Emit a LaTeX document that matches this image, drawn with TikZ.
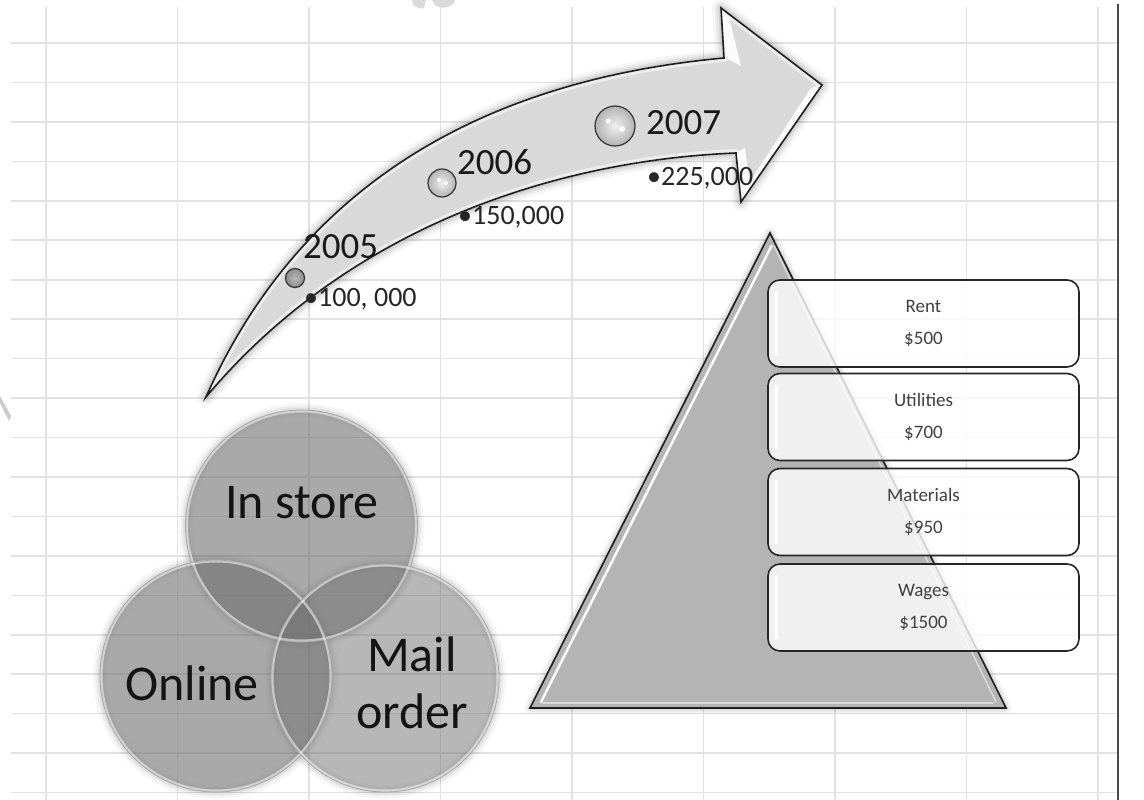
\documentclass[tikz,border=0pt]{standalone}
\usepackage{fontspec}
\setmainfont{Carlito}
\usetikzlibrary{calc}

\definecolor{gridc}{HTML}{E2E2E2}
\definecolor{edgec}{HTML}{4A4A4A}
\definecolor{arrowfill}{HTML}{D9D9D9}
\definecolor{outlinec}{HTML}{1E1E1E}
\definecolor{vennc}{HTML}{707070}
\definecolor{trifill}{HTML}{B4B4B4}
\definecolor{boxtext}{HTML}{404040}
\definecolor{markc}{HTML}{CBCBCB}

% curved timeline arrow, reused for halo, fill, bevel and outline
\newcommand\ArrowShape[1]{%
  \path[#1] (206,397) .. controls (280,230) and (430,85) .. (724,58)
    -- (721,8) -- (822,85) -- (741,202) -- (736,153)
    .. controls (560,160) and (350,225) .. (206,397) -- cycle;}
% pyramid
\newcommand\PyramidShape[1]{%
  \path[#1] (770,233) -- (530,708) -- (1006,708) -- cycle;}

\begin{document}
\begin{tikzpicture}[x=1pt,y=-1pt,
  gridline/.style={draw=gridc, line width=1.6},
  yeartext/.style={font=\fontsize{37}{40}\selectfont, inner sep=0, anchor=west, text=black!90},
  amount/.style={font=\fontsize{28}{30}\selectfont, inner sep=0, anchor=west, text=black!85},
  bubble/.style={circle, draw=black!80, line width=1.2, inner sep=0,
    inner color=black!6, outer color=black!30},
  glint/.style={circle, fill=white, inner sep=0, minimum size=#1},
  costbox/.style={rectangle, rounded corners=12, draw=black!85, line width=1.6,
    fill=white, fill opacity=.8, text opacity=1, minimum width=311, minimum height=87,
    align=center, text=boxtext, font=\fontsize{19}{32}\selectfont, inner sep=0},
  venntext/.style={font=\fontsize{50}{57}\selectfont, text=black!92, align=center, inner sep=0},
  rimlight/.style={draw=white, line width=5, opacity=.55},
]
\useasboundingbox (0,0) rectangle (1144,800);
\fill[white] (0,0) rectangle (1144,800);

% worksheet grid
\foreach \k in {0,...,8} {
  \pgfmathsetmacro\gx{46+131.5*\k}
  \draw[gridline] (\gx,7) -- (\gx,800);
}
\foreach \k in {0,...,19} {
  \pgfmathsetmacro\gy{43+39.45*\k}
  \draw[gridline] (11,\gy) -- (1118,\gy);
}
\draw[edgec, line width=1.5] (1118,4) -- (1118,800);

% faint marks cut by the page edges
\fill[markc, opacity=.7] (412,0) .. controls (412,6) and (418,10) .. (424,8) -- (426,0) -- cycle;
\fill[markc, opacity=.7] (432,0) .. controls (434,8) and (446,11) .. (454,3) -- (455,0) -- cycle;
\fill[markc] (0,396) -- (0,403) -- (9,421) -- (11,416) -- cycle;

% ---- timeline arrow ----
\foreach \w/\o in {18/.03,13/.04,9/.05,5/.07} {
  \ArrowShape{draw=black, line width=\w, opacity=\o, line join=round}
}
\ArrowShape{fill=arrowfill}
\begin{scope}
  \ArrowShape{clip}
  \ArrowShape{draw=white, line width=8, opacity=.5, line join=round}
  % bevel facets of the arrow head
  \fill[white, opacity=.95] (822,85) -- (741,202) -- (747,186) -- (811,88) -- cycle;
  \fill[white, opacity=.9] (721,8) -- (729,17) -- (741,66) -- (726,58) -- cycle;
  \fill[white, opacity=.9] (736,153) -- (745,148) -- (750,186) -- (742,196) -- cycle;
\end{scope}
\ArrowShape{draw=outlinec, line width=1.6, line join=miter}

\node[bubble, minimum size=19, inner color=black!28, outer color=black!45] (b2005) at (295,278) {};
\node[bubble, minimum size=28] (b2006) at (442,183) {};
\node[bubble, minimum size=40] (b2007) at (615,126) {};
\node[glint=4] (g2006a) at (439,180) {};
\node[glint=4] (g2006b) at (446,183) {};
\node[glint=5] (g2007a) at (608,121) {};
\node[glint=6] (g2007b) at (622,129) {};

\node[yeartext] (y2005) at (303,247) {2005};
\node[yeartext] (y2006) at (457,162) {2006};
\node[yeartext] (y2007) at (646,123) {2007};
\node[amount] (v2005) at (304,299) {•100, 000};
\node[amount] (v2006) at (458,217) {•150,000};
\node[amount] (v2007) at (647,178) {•225,000};

% ---- sales channel circles ----
\foreach \cx/\cy/\r in {301.5/526/116, 216/676/116, 385/678/114} {
  \foreach \w/\o in {14/.03,9/.04,5/.05} {
    \draw[black, line width=\w, opacity=\o] (\cx,\cy) circle (\r);
  }
}
\fill[vennc, fill opacity=.6] (301.5,526) circle (116);
\fill[vennc, fill opacity=.6] (216,676) circle (116);
\fill[vennc, fill opacity=.5] (385,678) circle (114);
\foreach \cx/\cy/\r in {301.5/526/116, 216/676/116, 385/678/114} {
  \begin{scope}
    \clip (\cx,\cy) circle (\r);
    \draw[rimlight] (\cx,\cy) circle (\r);
  \end{scope}
  \draw[black!35, line width=.8] (\cx,\cy) circle (\r);
}
\node[venntext] (instore) at (302,503) {In store};
\node[venntext] (online) at (192,683) {Online};
\node[venntext] (mail) at (412,683) {Mail\\order};

% ---- cost pyramid ----
\foreach \w/\o in {12/.03,8/.05,4/.07} {
  \PyramidShape{draw=black, line width=\w, opacity=\o, line join=round}
}
\PyramidShape{fill=trifill}
\draw[white, line width=2.5, opacity=.95, line cap=round] (771.5,246) -- (541,702);
\draw[white, line width=2, opacity=.5, line cap=round] (543,702.5) -- (993,702.5);
\draw[white, line width=1.5, opacity=.5, line cap=round] (774,246) -- (996,702);
\PyramidShape{draw=outlinec, line width=1.6, line join=miter}

\node[costbox] (rent)  at (923.5,323.5) {Rent\\\$500};
\node[costbox] (util)  at (923.5,417)   {Utilities\\\$700};
\node[costbox] (mat)   at (923.5,512)   {Materials\\\$950};
\node[costbox] (wages) at (923.5,607.5) {Wages\\\$1500};
\foreach \b in {rent,util,mat,wages} {
  \draw[white, line width=4, line cap=round, opacity=.9]
    ($(\b.north west)+(9,14)$) -- ($(\b.south west)+(9,-14)$);
}
\end{tikzpicture}
\end{document}
